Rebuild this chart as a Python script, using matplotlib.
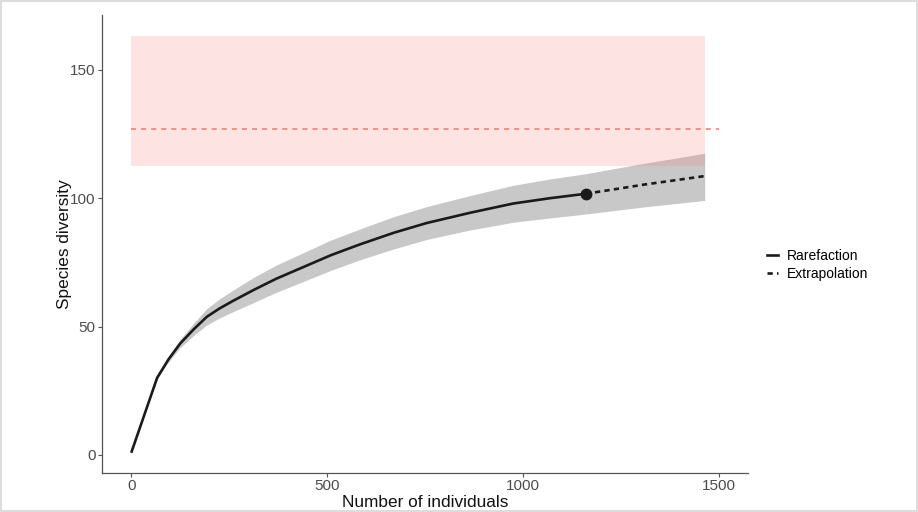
import matplotlib
matplotlib.use('Agg')
import matplotlib.pyplot as plt
from matplotlib.lines import Line2D

plt.rcParams['font.family'] = ['Liberation Sans', 'DejaVu Sans']

# Rarefaction curve
rare_x = [1, 66, 95, 125, 160, 193, 225, 260, 312, 370, 440, 510, 584, 670, 754, 865, 975, 1070, 1160]
rare_y = [1.3, 30, 37.2, 43.4, 49.0, 53.8, 57.0, 60.0, 64.2, 68.6, 73.2, 77.8, 82.0, 86.5, 90.3, 94.3, 97.9, 100.0, 101.7]
rare_lo = [1.3, 29.7, 36.2, 41.8, 46.6, 50.6, 53.3, 55.8, 59.3, 63.3, 67.6, 71.9, 76.0, 80.2, 83.9, 87.6, 90.6, 92.3, 93.8]
rare_hi = [1.3, 30.3, 38.2, 45.0, 51.4, 57.0, 60.7, 64.2, 69.1, 73.9, 78.8, 83.7, 88.0, 92.8, 96.7, 101.0, 105.0, 107.5, 109.5]

# Extrapolation curve
extra_x = [1160, 1240, 1310, 1390, 1464]
extra_y = [101.7, 103.6, 105.3, 107.0, 108.6]
extra_lo = [93.8, 95.3, 96.6, 97.9, 99.1]
extra_hi = [109.5, 111.7, 113.6, 115.6, 117.5]

# Reference band and estimate
band_x = [0, 1464]
band_lo = 112.4
band_hi = 163.3
est_x = [0, 1500]
est_y = 126.9

fig = plt.figure(figsize=(9.18, 5.12), dpi=100)
fig.patch.set_edgecolor('#dddddd')
fig.patch.set_linewidth(1.5)
ax = fig.add_axes([0.111, 0.076, 0.704, 0.895])

ax.fill_between(rare_x, rare_lo, rare_hi, color='#c8c8c8', linewidth=0, zorder=1)
ax.fill_between(extra_x, extra_lo, extra_hi, color='#c8c8c8', linewidth=0, zorder=1)
ax.fill_between(band_x, band_lo, band_hi, color='#F8766D', alpha=0.2, linewidth=0, zorder=2)
ax.plot(est_x, [est_y, est_y], color='#e0806f', linewidth=1.1, dashes=(3.3, 3.3), zorder=3)

ax.plot(rare_x, rare_y, color='#1a1a1a', linewidth=1.9, zorder=4)
ax.plot(extra_x, extra_y, color='#1a1a1a', linewidth=1.9, dashes=(2.0, 1.6), zorder=4)
ax.plot([rare_x[-1]], [rare_y[-1]], 'o', color='#1a1a1a', markersize=7.5, zorder=5)

ax.set_xlim(-75, 1575)
ax.set_ylim(-7.1, 171.4)
ax.set_xticks([0, 500, 1000, 1500])
ax.set_yticks([0, 50, 100, 150])

for s in ['top', 'right']:
    ax.spines[s].set_visible(False)
for s in ['left', 'bottom']:
    ax.spines[s].set_color('#555555')
    ax.spines[s].set_linewidth(0.9)
ax.tick_params(colors='#555555', labelcolor='#4d4d4d', labelsize=11, length=3, width=0.8, pad=1.5)

ax.set_xlabel('Number of individuals', fontsize=12.4, color='#111111', labelpad=1)
ax.set_ylabel('Species diversity', fontsize=12.4, color='#111111', labelpad=-1)

handles = [Line2D([], [], color='#1a1a1a', linewidth=1.9),
           Line2D([], [], color='#1a1a1a', linewidth=1.9, dashes=(2.0, 1.6))]
fig.legend(handles, ['Rarefaction', 'Extrapolation'], loc='center left',
           bbox_to_anchor=(0.822, 0.483), frameon=False, fontsize=10,
           handlelength=0.8, handletextpad=0.6, labelspacing=0.3)

fig.savefig('out.png', dpi=100)
